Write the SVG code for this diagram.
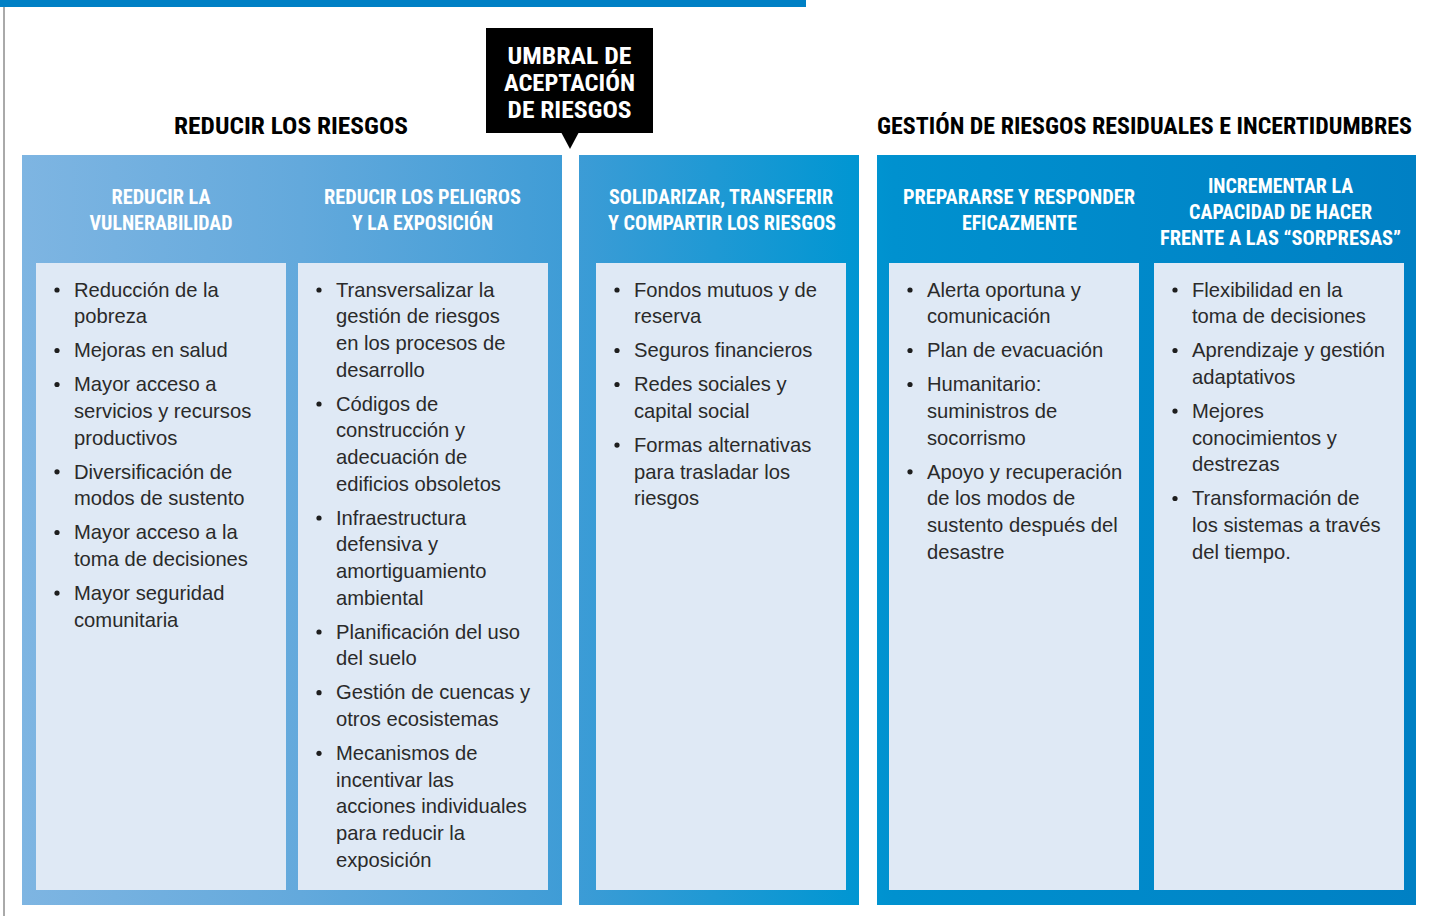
<svg xmlns="http://www.w3.org/2000/svg" width="1430" height="916" viewBox="0 0 1430 916">
<defs>
<linearGradient id="bg" gradientUnits="userSpaceOnUse" x1="22" y1="0" x2="1416" y2="0">
<stop offset="0" stop-color="#7EB5E2"/>
<stop offset="0.2" stop-color="#63A9DC"/>
<stop offset="0.393" stop-color="#3E9CD6"/>
<stop offset="0.6" stop-color="#0096D2"/>
<stop offset="0.625" stop-color="#0091CF"/>
<stop offset="1" stop-color="#0080C4"/>
</linearGradient>
<style>
.panel{fill:url(#bg);}
.box{fill:#DFE9F5;}
.hd{font-family:"Liberation Sans Narrow","Roboto Condensed","DejaVu Sans Condensed","Liberation Sans",sans-serif;font-stretch:condensed;font-weight:bold;font-size:19.5px;fill:#FFFFFF;text-anchor:middle;}
.ttl{font-family:"Liberation Sans Narrow","Roboto Condensed","DejaVu Sans Condensed","Liberation Sans",sans-serif;font-stretch:condensed;font-weight:bold;font-size:24.5px;fill:#000000;text-anchor:middle;}
.ttlw{fill:#FFFFFF;}
.tx{font-family:"Liberation Sans",Arial,sans-serif;font-size:20.2px;fill:#2A2A2A;}
.bul{fill:#1E1E1E;}
</style>
</defs>
<rect x="0" y="0" width="1430" height="916" fill="#FFFFFF"/>
<line x1="4" y1="0" x2="4" y2="916" stroke="#555555" stroke-width="1"/>
<rect x="0" y="0" width="806" height="7" fill="#0080C5"/>

<g id="title-reducir">
<text class="ttl" x="291" y="134" textLength="234" lengthAdjust="spacingAndGlyphs">REDUCIR LOS RIESGOS</text>
</g>
<g id="title-gestion">
<text class="ttl" x="1144.5" y="134" textLength="535" lengthAdjust="spacingAndGlyphs">GESTIÓN DE RIESGOS RESIDUALES E INCERTIDUMBRES</text>
</g>

<g id="umbral">
<rect x="486" y="28" width="167" height="105" fill="#000000"/>
<polygon points="561,132 579,132 570,149" fill="#000000"/>
<text class="ttl ttlw" x="569.5" y="64" textLength="124" lengthAdjust="spacingAndGlyphs">UMBRAL DE</text>
<text class="ttl ttlw" x="569.5" y="91" textLength="131" lengthAdjust="spacingAndGlyphs">ACEPTACIÓN</text>
<text class="ttl ttlw" x="569.5" y="118" textLength="124" lengthAdjust="spacingAndGlyphs">DE RIESGOS</text>
</g>

<g id="panels">
<rect class="panel" x="22" y="155" width="540" height="750"/>
<rect class="panel" x="579" y="155" width="280" height="750"/>
<rect class="panel" x="877" y="155" width="539" height="750"/>
</g>

<g id="col-vulnerabilidad">
<text class="hd" x="161" y="204" textLength="99" lengthAdjust="spacingAndGlyphs">REDUCIR LA</text>
<text class="hd" x="161" y="230" textLength="143" lengthAdjust="spacingAndGlyphs">VULNERABILIDAD</text>
<rect class="box" x="36" y="263" width="250" height="627"/>
<g class="bul">
<circle cx="57" cy="290" r="2.6"/>
<circle cx="57" cy="350.5" r="2.6"/>
<circle cx="57" cy="384.5" r="2.6"/>
<circle cx="57" cy="471.8" r="2.6"/>
<circle cx="57" cy="532.5" r="2.6"/>
<circle cx="57" cy="593.1" r="2.6"/>
</g>
<text class="tx">
<tspan x="74" y="296.7">Reducción de la</tspan>
<tspan x="74" y="323.4">pobreza</tspan>
<tspan x="74" y="357.4">Mejoras en salud</tspan>
<tspan x="74" y="391.4">Mayor acceso a</tspan>
<tspan x="74" y="418">servicios y recursos</tspan>
<tspan x="74" y="444.7">productivos</tspan>
<tspan x="74" y="478.7">Diversificación de</tspan>
<tspan x="74" y="505.4">modos de sustento</tspan>
<tspan x="74" y="539.4">Mayor acceso a la</tspan>
<tspan x="74" y="566">toma de decisiones</tspan>
<tspan x="74" y="600">Mayor seguridad</tspan>
<tspan x="74" y="626.7">comunitaria</tspan>
</text>
</g>

<g id="col-peligros">
<text class="hd" x="422.5" y="204" textLength="197" lengthAdjust="spacingAndGlyphs">REDUCIR LOS PELIGROS</text>
<text class="hd" x="422.5" y="230" textLength="141" lengthAdjust="spacingAndGlyphs">Y LA EXPOSICIÓN</text>
<rect class="box" x="298" y="263" width="250" height="627"/>
<g class="bul">
<circle cx="319" cy="290" r="2.6"/>
<circle cx="319" cy="404" r="2.6"/>
<circle cx="319" cy="518" r="2.6"/>
<circle cx="319" cy="632" r="2.6"/>
<circle cx="319" cy="692.7" r="2.6"/>
<circle cx="319" cy="753.3" r="2.6"/>
</g>
<text class="tx">
<tspan x="336" y="296.7">Transversalizar la</tspan>
<tspan x="336" y="323.4">gestión de riesgos</tspan>
<tspan x="336" y="350">en los procesos de</tspan>
<tspan x="336" y="376.7">desarrollo</tspan>
<tspan x="336" y="410.7">Códigos de</tspan>
<tspan x="336" y="437.4">construcción y</tspan>
<tspan x="336" y="464">adecuación de</tspan>
<tspan x="336" y="490.7">edificios obsoletos</tspan>
<tspan x="336" y="524.7">Infraestructura</tspan>
<tspan x="336" y="551.4">defensiva y</tspan>
<tspan x="336" y="578">amortiguamiento</tspan>
<tspan x="336" y="604.7">ambiental</tspan>
<tspan x="336" y="638.7">Planificación del uso</tspan>
<tspan x="336" y="665.4">del suelo</tspan>
<tspan x="336" y="699.4">Gestión de cuencas y</tspan>
<tspan x="336" y="726">otros ecosistemas</tspan>
<tspan x="336" y="760">Mecanismos de</tspan>
<tspan x="336" y="786.7">incentivar las</tspan>
<tspan x="336" y="813.4">acciones individuales</tspan>
<tspan x="336" y="840">para reducir la</tspan>
<tspan x="336" y="866.7">exposición</tspan>
</text>
</g>

<g id="col-transferir">
<text class="hd" x="721" y="204" textLength="224" lengthAdjust="spacingAndGlyphs">SOLIDARIZAR, TRANSFERIR</text>
<text class="hd" x="722" y="230" textLength="228" lengthAdjust="spacingAndGlyphs">Y COMPARTIR LOS RIESGOS</text>
<rect class="box" x="596" y="263" width="250" height="627"/>
<g class="bul">
<circle cx="617" cy="290" r="2.6"/>
<circle cx="617" cy="350.5" r="2.6"/>
<circle cx="617" cy="384.5" r="2.6"/>
<circle cx="617" cy="445.1" r="2.6"/>
</g>
<text class="tx">
<tspan x="634" y="296.7">Fondos mutuos y de</tspan>
<tspan x="634" y="323.4">reserva</tspan>
<tspan x="634" y="357.4">Seguros financieros</tspan>
<tspan x="634" y="391.4">Redes sociales y</tspan>
<tspan x="634" y="418">capital social</tspan>
<tspan x="634" y="452">Formas alternativas</tspan>
<tspan x="634" y="478.7">para trasladar los</tspan>
<tspan x="634" y="505.4">riesgos</tspan>
</text>
</g>

<g id="col-preparar">
<text class="hd" x="1019" y="204" textLength="232" lengthAdjust="spacingAndGlyphs">PREPARARSE Y RESPONDER</text>
<text class="hd" x="1019.5" y="230" textLength="115" lengthAdjust="spacingAndGlyphs">EFICAZMENTE</text>
<rect class="box" x="889" y="263" width="250" height="627"/>
<g class="bul">
<circle cx="910" cy="290" r="2.6"/>
<circle cx="910" cy="350.5" r="2.6"/>
<circle cx="910" cy="384.5" r="2.6"/>
<circle cx="910" cy="471.8" r="2.6"/>
</g>
<text class="tx">
<tspan x="927" y="296.7">Alerta oportuna y</tspan>
<tspan x="927" y="323.4">comunicación</tspan>
<tspan x="927" y="357.4">Plan de evacuación</tspan>
<tspan x="927" y="391.4">Humanitario:</tspan>
<tspan x="927" y="418">suministros de</tspan>
<tspan x="927" y="444.7">socorrismo</tspan>
<tspan x="927" y="478.7">Apoyo y recuperación</tspan>
<tspan x="927" y="505.4">de los modos de</tspan>
<tspan x="927" y="532">sustento después del</tspan>
<tspan x="927" y="558.7">desastre</tspan>
</text>
</g>

<g id="col-sorpresas">
<text class="hd" x="1280.5" y="193" textLength="145" lengthAdjust="spacingAndGlyphs">INCREMENTAR LA</text>
<text class="hd" x="1280.5" y="219" textLength="183" lengthAdjust="spacingAndGlyphs">CAPACIDAD DE HACER</text>
<text class="hd" x="1280.5" y="245" textLength="241" lengthAdjust="spacingAndGlyphs">FRENTE A LAS “SORPRESAS”</text>
<rect class="box" x="1154" y="263" width="250" height="627"/>
<g class="bul">
<circle cx="1175" cy="290" r="2.6"/>
<circle cx="1175" cy="350.5" r="2.6"/>
<circle cx="1175" cy="411.1" r="2.6"/>
<circle cx="1175" cy="498.5" r="2.6"/>
</g>
<text class="tx">
<tspan x="1192" y="296.7">Flexibilidad en la</tspan>
<tspan x="1192" y="323.4">toma de decisiones</tspan>
<tspan x="1192" y="357.4">Aprendizaje y gestión</tspan>
<tspan x="1192" y="384">adaptativos</tspan>
<tspan x="1192" y="418">Mejores</tspan>
<tspan x="1192" y="444.7">conocimientos y</tspan>
<tspan x="1192" y="471.4">destrezas</tspan>
<tspan x="1192" y="505.4">Transformación de</tspan>
<tspan x="1192" y="532">los sistemas a través</tspan>
<tspan x="1192" y="558.7">del tiempo.</tspan>
</text>
</g>
<g id="connectors"></g>
</svg>
